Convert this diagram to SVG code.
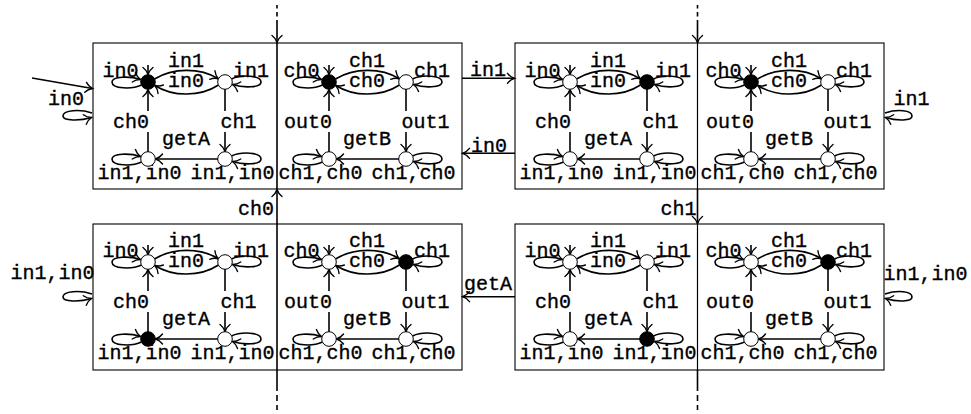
<svg xmlns="http://www.w3.org/2000/svg" xmlns:xlink="http://www.w3.org/1999/xlink" width="971" height="414" viewBox="0 0 971 414">
  <style>
    .t { font-family: "Liberation Mono", "DejaVu Sans Mono", monospace; font-size: 20px; fill: #000; stroke: #000; stroke-width: 0.35; }
    .m { text-anchor: middle; }
    .r { text-anchor: end; }
    .e { fill: none; stroke: #000; stroke-width: 1.6; }
    .box { fill: none; stroke: #000; stroke-width: 1.1; }
    .s { fill: #fff; stroke: #000; stroke-width: 1; }
    .on { fill: #000; }
  </style>
  <defs>
    <marker id="ah" viewBox="-9 -7 11 14" markerWidth="11" markerHeight="14" refX="0" refY="0" orient="auto" markerUnits="userSpaceOnUse">
      <path d="M-7,-5 C-5,-2.3 -2.2,-0.7 0,0 C-2.2,0.7 -5,2.3 -7,5" fill="none" stroke="#000" stroke-width="1.4" stroke-linecap="round"/>
    </marker>
    <!-- shared transition layout of one 4-state automaton; origin = top-left state centre -->
    <g id="edges">
      <line class="e" x1="0" y1="-17" x2="0" y2="-7.5" marker-end="url(#ah)"/>
      <path class="e" d="M-6.5,3 C-16,7.5 -36,7 -36,0 C-36,-6 -18,-6 -7.5,-2.5" marker-end="url(#ah)"/>
      <path class="e" d="M83.5,-3 C93,-7.5 113,-7 113,0 C113,6 95,6 84.5,2.5" marker-end="url(#ah)"/>
      <path class="e" d="M6.5,-3 C25,-14.5 52,-14.5 70.3,-3.3" marker-end="url(#ah)"/>
      <path class="e" d="M70.5,3 C52,15 25,15 6.8,3.5" marker-end="url(#ah)"/>
      <line class="e" x1="0" y1="70" x2="0" y2="50"/>
      <line class="e" x1="0" y1="29" x2="0" y2="7.5" marker-end="url(#ah)"/>
      <line class="e" x1="77" y1="7" x2="77" y2="29"/>
      <line class="e" x1="77" y1="50" x2="77" y2="69.5" marker-end="url(#ah)"/>
      <path class="e" d="M-6.5,80 C-16,84.5 -36,84 -36,77 C-36,71 -18,71 -7.5,74.5" marker-end="url(#ah)"/>
      <path class="e" d="M83.5,74 C93,69.5 113,70 113,77 C113,83 95,83 84.5,79.5" marker-end="url(#ah)"/>
      <line class="e" x1="70" y1="77" x2="7.5" y2="77" marker-end="url(#ah)"/>
    </g>
    <g id="tplIn">
      <use xlink:href="#edges"/>
      <text class="t m" x="38" y="-15.5">in1</text>
      <text class="t m" x="38" y="4.7">in0</text>
      <text class="t m" x="-27.5" y="-5.5">in0</text>
      <text class="t m" x="103" y="-5.5">in1</text>
      <text class="t r" x="1" y="46">ch0</text>
      <text class="t" x="72.5" y="46">ch1</text>
      <text class="t m" x="38" y="63">getA</text>
      <text class="t m" x="-8.5" y="96.5">in1,in0</text>
      <text class="t m" x="84.5" y="96.5">in1,in0</text>
    </g>
    <g id="tplCh">
      <use xlink:href="#edges"/>
      <text class="t m" x="38" y="-15.5">ch1</text>
      <text class="t m" x="38" y="4.7">ch0</text>
      <text class="t m" x="-27.5" y="-5.5">ch0</text>
      <text class="t m" x="103" y="-5.5">ch1</text>
      <text class="t r" x="3" y="46">out0</text>
      <text class="t" x="72.5" y="46">out1</text>
      <text class="t m" x="38" y="63">getB</text>
      <text class="t m" x="-8.5" y="96.5">ch1,ch0</text>
      <text class="t m" x="84.5" y="96.5">ch1,ch0</text>
    </g>
  </defs>

  <!-- connectors between global states -->
  <g id="connectors">
    <line class="e" x1="32" y1="78" x2="92.5" y2="88.5" marker-end="url(#ah)"/>
    <path class="e" d="M92,113 C80,109 63,110 63,116 C63,121 80,121 91.5,117.5" marker-end="url(#ah)"/>
    <text class="t m" x="66" y="105">in0</text>

    <line class="e" x1="462" y1="78.3" x2="514.5" y2="78.3" marker-end="url(#ah)"/>
    <text class="t m" x="488" y="76">in1</text>
    <line class="e" x1="515" y1="153.3" x2="462.5" y2="153.3" marker-end="url(#ah)"/>
    <text class="t m" x="489" y="151.5">in0</text>

    <path class="e" d="M885,113 C897,109 912,110 912,116 C912,121 897,121 885.5,117.5" marker-end="url(#ah)"/>
    <text class="t m" x="911.5" y="105">in1</text>

    <line class="e" x1="277" y1="5" x2="277" y2="8.5"/>
    <line class="e" x1="277" y1="12" x2="277" y2="16.5"/>
    <line class="e" x1="277" y1="20" x2="277" y2="42.5" marker-end="url(#ah)"/>
    <line class="e" x1="697.5" y1="5" x2="697.5" y2="8.5"/>
    <line class="e" x1="697.5" y1="12" x2="697.5" y2="16.5"/>
    <line class="e" x1="697.5" y1="20" x2="697.5" y2="42.5" marker-end="url(#ah)"/>

    <line class="e" x1="277" y1="224" x2="277" y2="189.5" marker-end="url(#ah)"/>
    <text class="t r" x="274" y="215">ch0</text>
    <line class="e" x1="697.5" y1="189" x2="697.5" y2="223.5" marker-end="url(#ah)"/>
    <text class="t r" x="696.5" y="215">ch1</text>

    <line class="e" x1="277" y1="370" x2="277" y2="391"/>
    <line class="e" x1="277" y1="395" x2="277" y2="401"/>
    <line class="e" x1="277" y1="405" x2="277" y2="410"/>
    <line class="e" x1="697.5" y1="370" x2="697.5" y2="391"/>
    <line class="e" x1="697.5" y1="395" x2="697.5" y2="401"/>
    <line class="e" x1="697.5" y1="405" x2="697.5" y2="410"/>

    <line class="e" x1="515" y1="296.7" x2="462.5" y2="296.7" marker-end="url(#ah)"/>
    <text class="t m" x="488" y="290">getA</text>

    <path class="e" d="M92,294 C80,290 63,291 63,297 C63,302 80,302 91.5,298.5" marker-end="url(#ah)"/>
    <text class="t m" x="52.5" y="279">in1,in0</text>
    <path class="e" d="M885,294 C897,290 912,291 912,297 C912,302 897,302 885.5,298.5" marker-end="url(#ah)"/>
    <text class="t m" x="925.5" y="280">in1,in0</text>
  </g>

  <!-- top-left global state -->
  <g id="s00-A">
    <rect class="box" x="93" y="43" width="184" height="146"/>
    <use xlink:href="#tplIn" x="148" y="82"/>
    <circle class="s on" cx="148" cy="82" r="7.3"/><circle class="s" cx="225" cy="82" r="7.3"/>
    <circle class="s" cx="148" cy="159" r="7.3"/><circle class="s" cx="225" cy="159" r="7.3"/>
  </g>
  <g id="s00-B">
    <rect class="box" x="277" y="43" width="185" height="146"/>
    <use xlink:href="#tplCh" x="329" y="82"/>
    <circle class="s on" cx="329" cy="82" r="7.3"/><circle class="s" cx="406" cy="82" r="7.3"/>
    <circle class="s" cx="329" cy="159" r="7.3"/><circle class="s" cx="406" cy="159" r="7.3"/>
  </g>

  <!-- top-right global state -->
  <g id="s10-A">
    <rect class="box" x="515" y="43" width="182.5" height="146"/>
    <use xlink:href="#tplIn" x="570" y="82"/>
    <circle class="s" cx="570" cy="82" r="7.3"/><circle class="s on" cx="647" cy="82" r="7.3"/>
    <circle class="s" cx="570" cy="159" r="7.3"/><circle class="s" cx="647" cy="159" r="7.3"/>
  </g>
  <g id="s10-B">
    <rect class="box" x="697.5" y="43" width="186.5" height="146"/>
    <use xlink:href="#tplCh" x="751" y="82"/>
    <circle class="s on" cx="751" cy="82" r="7.3"/><circle class="s" cx="828" cy="82" r="7.3"/>
    <circle class="s" cx="751" cy="159" r="7.3"/><circle class="s" cx="828" cy="159" r="7.3"/>
  </g>

  <!-- bottom-left global state -->
  <g id="s01-A">
    <rect class="box" x="93" y="224" width="184" height="146"/>
    <use xlink:href="#tplIn" x="148" y="262"/>
    <circle class="s" cx="148" cy="262" r="7.3"/><circle class="s" cx="225" cy="262" r="7.3"/>
    <circle class="s on" cx="148" cy="339" r="7.3"/><circle class="s" cx="225" cy="339" r="7.3"/>
  </g>
  <g id="s01-B">
    <rect class="box" x="277" y="224" width="185" height="146"/>
    <use xlink:href="#tplCh" x="329" y="262"/>
    <circle class="s" cx="329" cy="262" r="7.3"/><circle class="s on" cx="406" cy="262" r="7.3"/>
    <circle class="s" cx="329" cy="339" r="7.3"/><circle class="s" cx="406" cy="339" r="7.3"/>
  </g>

  <!-- bottom-right global state -->
  <g id="s11-A">
    <rect class="box" x="515" y="224" width="182.5" height="146"/>
    <use xlink:href="#tplIn" x="570" y="262"/>
    <circle class="s" cx="570" cy="262" r="7.3"/><circle class="s" cx="647" cy="262" r="7.3"/>
    <circle class="s" cx="570" cy="339" r="7.3"/><circle class="s on" cx="647" cy="339" r="7.3"/>
  </g>
  <g id="s11-B">
    <rect class="box" x="697.5" y="224" width="186.5" height="146"/>
    <use xlink:href="#tplCh" x="751" y="262"/>
    <circle class="s" cx="751" cy="262" r="7.3"/><circle class="s on" cx="828" cy="262" r="7.3"/>
    <circle class="s" cx="751" cy="339" r="7.3"/><circle class="s" cx="828" cy="339" r="7.3"/>
  </g>
</svg>
